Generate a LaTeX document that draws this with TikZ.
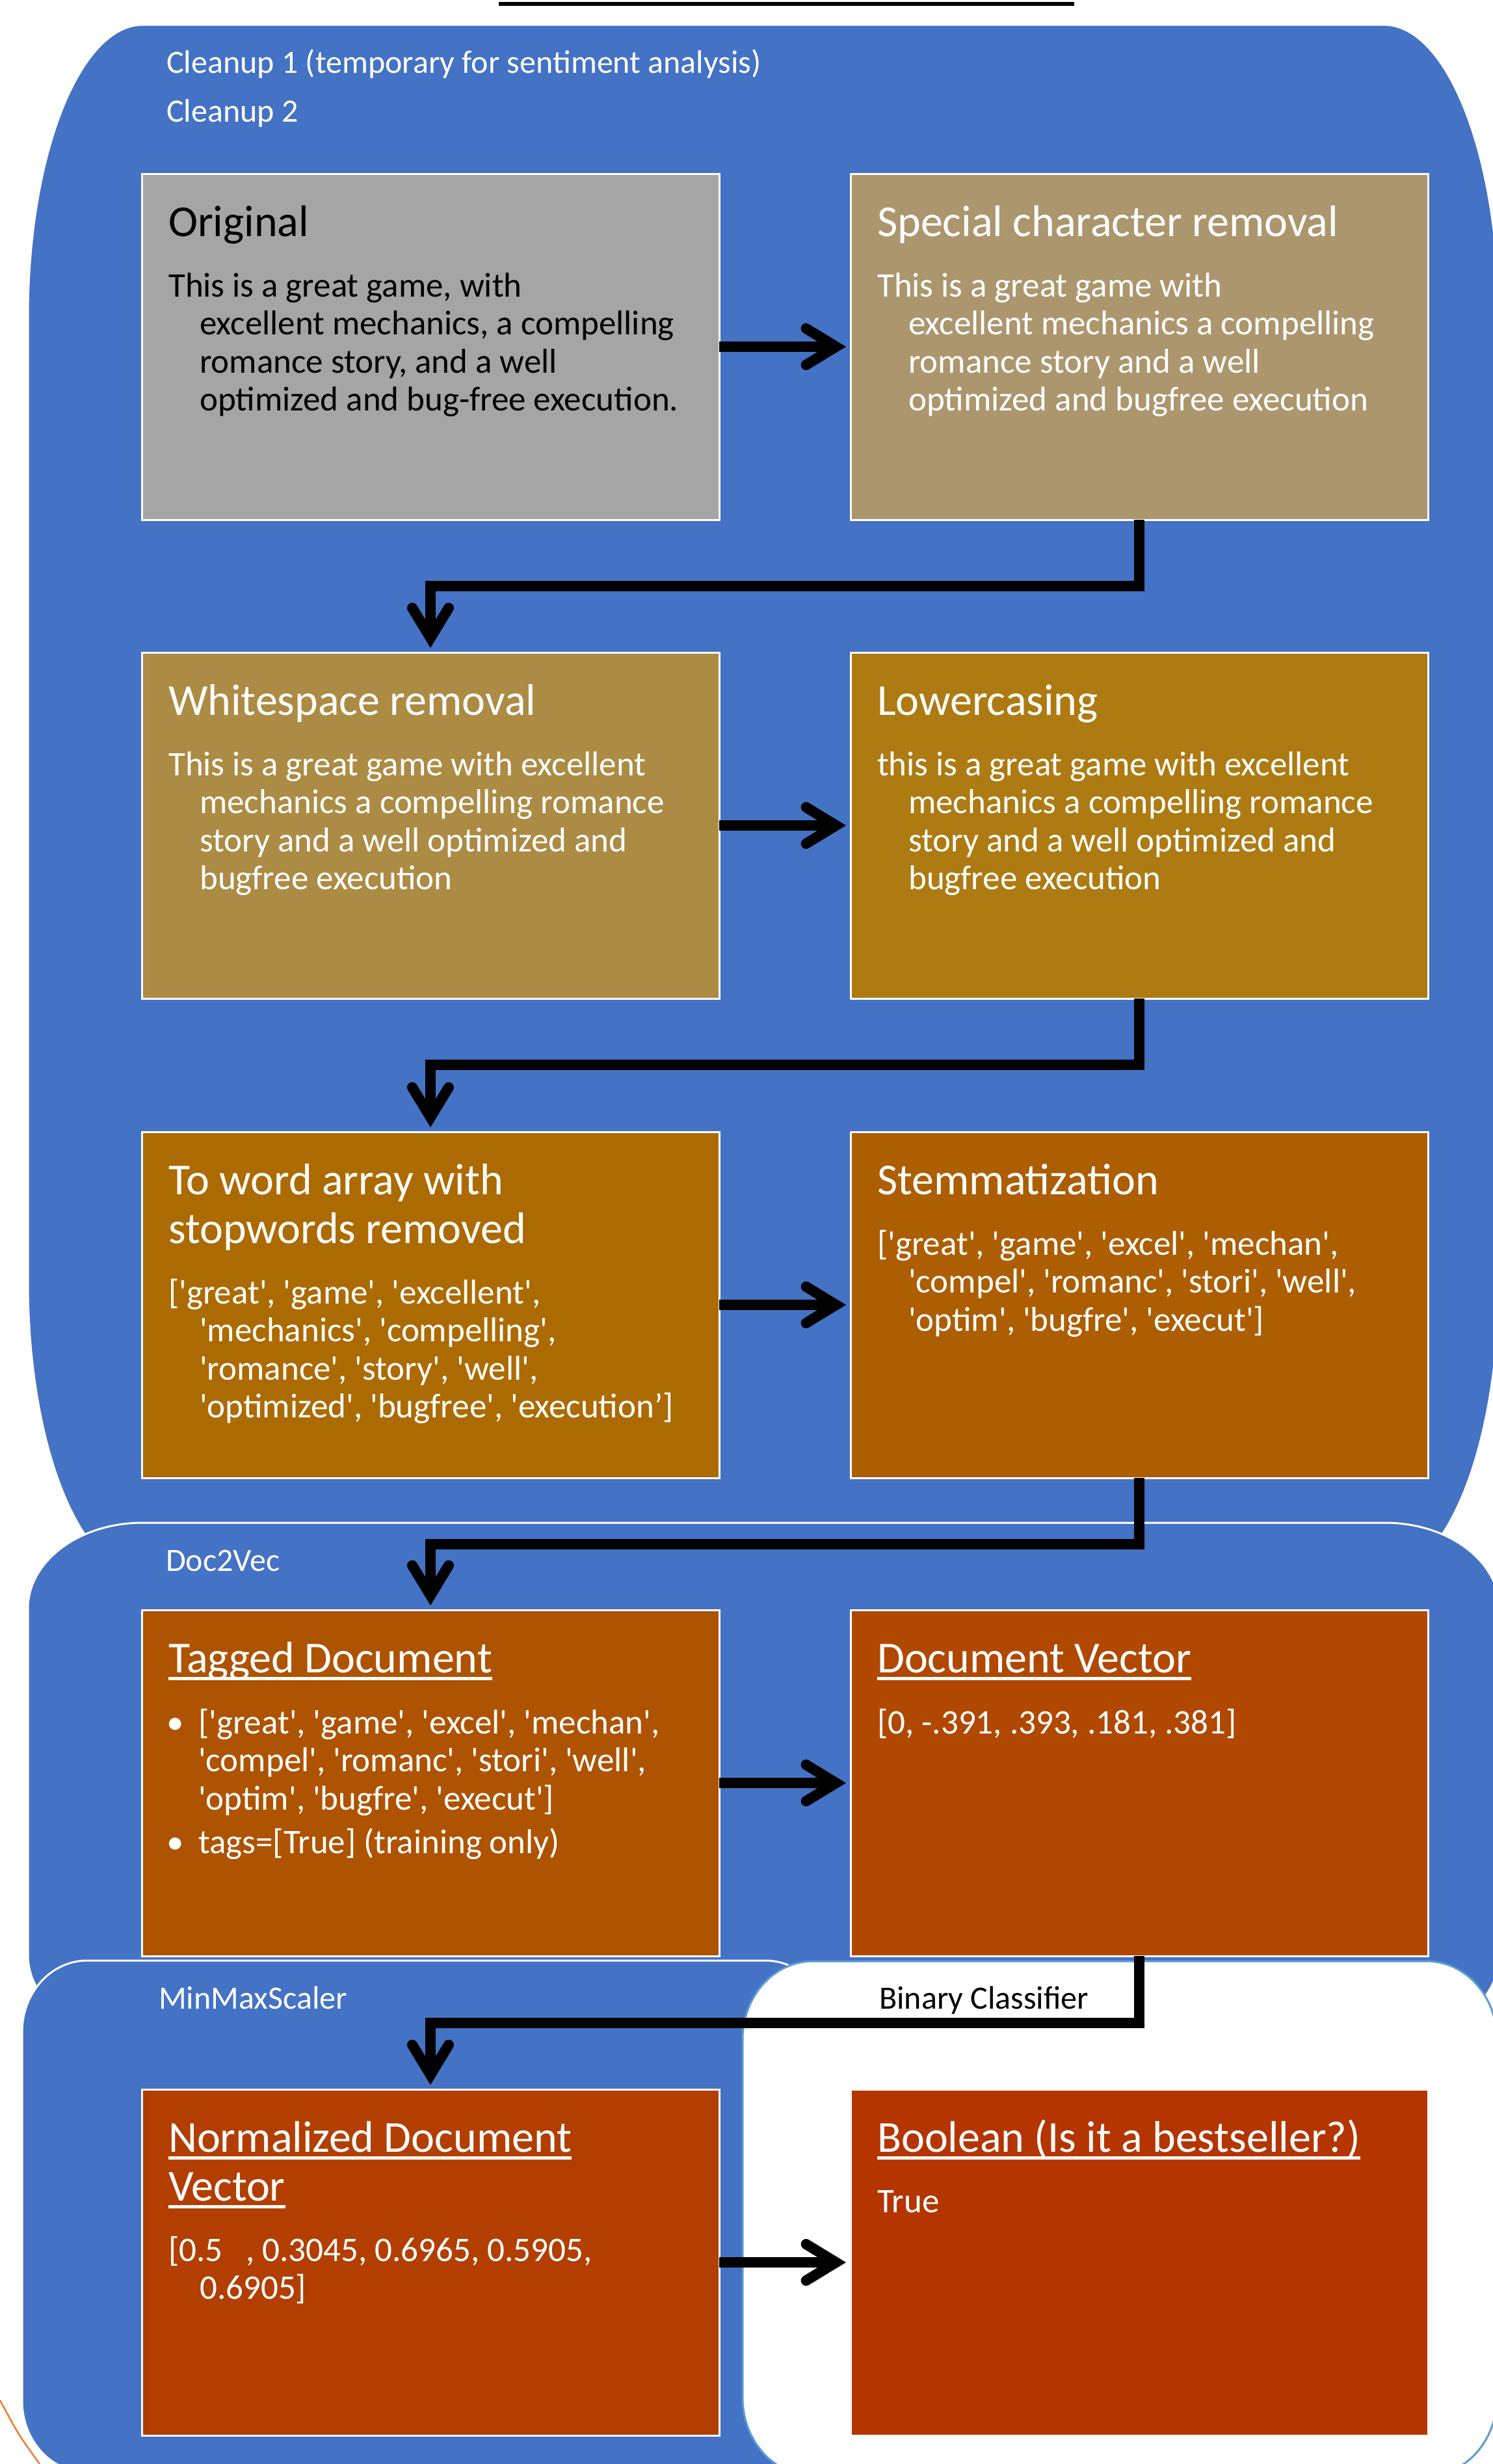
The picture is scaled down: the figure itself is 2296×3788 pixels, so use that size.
\documentclass[tikz,border=0pt]{standalone}
\usepackage{fontspec}
\setmainfont{Carlito}
\usetikzlibrary{arrows.meta}
\definecolor{grpblue}{HTML}{4472C4}
\definecolor{bcline}{HTML}{5B9BD5}
\definecolor{orangeline}{HTML}{ED7D31}
\definecolor{cA}{HTML}{A5A5A5}
\definecolor{cB}{HTML}{AC966E}
\definecolor{cC}{HTML}{AC8B45}
\definecolor{cD}{HTML}{AD7B12}
\definecolor{cE}{HTML}{AC6B00}
\definecolor{cF}{HTML}{AC5E00}
\definecolor{cG}{HTML}{AE5300}
\definecolor{cH}{HTML}{B14800}
\definecolor{cI}{HTML}{B23F00}
\definecolor{cJ}{HTML}{B43500}
\newcommand\sq{\textquotesingle}
\newcommand\ulx[1]{\leavevmode\setbox0=\hbox{#1}\rlap{\rule[-12pt]{\wd0}{5pt}}\box0}
\newcommand\titlefont{\fontsize{68}{75}\selectfont}
\newcommand\bodyfont{\fontsize{53}{58.5}\selectfont}
\newcommand\labelfont{\fontsize{50}{60}\selectfont}
\newcommand\hang[1]{\parbox[t]{1000pt}{\raggedright\let\\\newline\hangindent=48pt\hangafter=1 #1}}
\newcommand\grpshape[7]{%
  \path[#7] (#1+#5,#2) -- (#3-#5,#2)
    arc[start angle=-90,end angle=0,x radius=#5,y radius=#6]
    -- (#3,#4-#6)
    arc[start angle=0,end angle=90,x radius=#5,y radius=#6]
    -- (#1+#5,#4)
    arc[start angle=90,end angle=180,x radius=#5,y radius=#6]
    -- (#1,#2+#6)
    arc[start angle=180,end angle=270,x radius=#5,y radius=#6]
    -- cycle;}
\tikzset{
  stepbox/.style={draw=white, line width=3pt, minimum width=888pt, minimum height=532pt,
    inner sep=0pt, outer sep=0pt, anchor=north west},
  titletext/.style={font=\titlefont, text=white, inner sep=0pt, anchor=base west},
  bodytext/.style={font=\bodyfont, text=white, inner sep=0pt, anchor=base west},
  grplabel/.style={font=\labelfont, text=white, inner sep=0pt, anchor=base west},
  grpfill/.style={fill=grpblue, draw=white, line width=3pt},
  conn/.style={line width=16pt, line join=miter,
    -{Straight Barb[length=46pt, width=56pt, line cap=round, line join=miter]},
    shorten >=7pt}
}
\begin{document}
\begin{tikzpicture}[x=1pt, y=-1pt]
\useasboundingbox (0,0) rectangle (2296,3788);
\clip (0,0) rectangle (2296,3788);
\fill[white] (0,0) rectangle (2296,3788);

% top bar and orange arc
\draw[line width=6pt] (767,6) -- (1652,6);
\draw[orangeline, line width=2.5pt] (0,3690) .. controls (28,3742) .. (61,3788);

% group backgrounds
\grpshape{43}{38}{2305}{2421}{177}{450}{grpfill}
\grpshape{43}{2341}{2306}{3137}{176}{132}{grpfill}
\grpshape{34}{3014}{1277}{3801}{100}{110}{grpfill}
\grpshape{1142}{3015}{2302}{3806}{108}{120}{fill=white, draw=bcline, line width=3pt}

% group labels
\node[grplabel] (lblC1) at (256,112) {Cleanup 1 (temporary for sentiment analysis)};
\node[grplabel] (lblC2) at (256,187) {Cleanup 2};
\node[grplabel] (lblD2V) at (255,2415) {Doc2Vec};
\node[grplabel] (lblMMS) at (244,3088) {MinMaxScaler};
\node[grplabel, text=black] (lblBC) at (1352,3088) {Binary Classifier};

% boxes
\node[stepbox, fill=cA] (orig) at (218,267) {};
\node[stepbox, fill=cB] (spec) at (1308,267) {};
\node[stepbox, fill=cC] (ws) at (218,1003) {};
\node[stepbox, fill=cD] (lower) at (1308,1003) {};
\node[stepbox, fill=cE] (words) at (218,1740) {};
\node[stepbox, fill=cF] (stem) at (1308,1740) {};
\node[stepbox, fill=cG] (tagged) at (218,2475) {};
\node[stepbox, fill=cH] (docvec) at (1308,2475) {};
\node[stepbox, fill=cI] (norm) at (218,3212) {};
\node[stepbox, fill=cJ] (bool) at (1308,3212) {};

% texts: row 1
\node[titletext, text=black] (origT) at (259,363) {Original};
\node[bodytext, text=black] (origB) at (259,456) {\hang{This is a great game, with\\
excellent mechanics, a compelling\\
romance story, and a well\\
optimized and bug-free execution.}};
\node[titletext] (specT) at (1349,363) {Special character removal};
\node[bodytext] (specB) at (1349,456) {\hang{This is a great game with\\
excellent mechanics a compelling\\
romance story and a well\\
optimized and bugfree execution}};

% row 2
\node[titletext] (wsT) at (259,1099) {Whitespace removal};
\node[bodytext] (wsB) at (259,1192) {\hang{This is a great game with excellent\\
mechanics a compelling romance\\
story and a well optimized and\\
bugfree execution}};
\node[titletext] (lowerT) at (1349,1099) {Lowercasing};
\node[bodytext] (lowerB) at (1349,1192) {\hang{this is a great game with excellent\\
mechanics a compelling romance\\
story and a well optimized and\\
bugfree execution}};

% row 3
\node[titletext] (wordsT) at (259,1836) {\parbox[t]{860pt}{\raggedright To word array with\\
stopwords removed}};
\node[bodytext] (wordsB) at (259,2004) {\hang{[\sq great\sq, \sq game\sq, \sq excellent\sq,\\
\sq mechanics\sq, \sq compelling\sq,\\
\sq romance\sq, \sq story\sq, \sq well\sq,\\
\sq optimized\sq, \sq bugfree\sq, \sq execution’]}};
\node[titletext] (stemT) at (1349,1836) {Stemmatization};
\node[bodytext] (stemB) at (1349,1929) {\hang{[\sq great\sq, \sq game\sq, \sq excel\sq, \sq mechan\sq,\\
\sq compel\sq, \sq romanc\sq, \sq stori\sq, \sq well\sq,\\
\sq optim\sq, \sq bugfre\sq, \sq execut\sq]}};

% row 4
\node[titletext] (taggedT) at (259,2571) {\ulx{Tagged Document}};
\node[bodytext] (taggedB) at (305,2665) {\parbox[t]{860pt}{\raggedright
\leavevmode\llap{\textbullet\hskip 22pt}[\sq great\sq, \sq game\sq, \sq excel\sq, \sq mechan\sq,\\
\sq compel\sq, \sq romanc\sq, \sq stori\sq, \sq well\sq,\\
\sq optim\sq, \sq bugfre\sq, \sq execut\sq]\par\vspace{9pt}
\leavevmode\llap{\textbullet\hskip 22pt}tags=[True] (training only)}};
\node[titletext] (docvecT) at (1349,2571) {\ulx{Document Vector}};
\node[bodytext] (docvecB) at (1349,2665) {[0, -.391, .393, .181, .381]};

% row 5
\node[titletext] (normT) at (259,3308) {\parbox[t]{860pt}{\raggedright \ulx{Normalized Document}\\
\ulx{Vector}}};
\node[bodytext] (normB) at (259,3476) {\hang{[0.5\ \ \ , 0.3045, 0.6965, 0.5905,\\
0.6905]}};
\node[titletext] (boolT) at (1349,3308) {\ulx{Boolean (Is it a bestseller?)}};
\node[bodytext] (boolB) at (1349,3401) {True};

% connectors
\draw[conn] (orig.east) -- (spec.west);
\draw[conn] (spec.south) -- ++(0,102) -| (ws.north);
\draw[conn] (ws.east) -- (lower.west);
\draw[conn] (lower.south) -- ++(0,102) -| (words.north);
\draw[conn] (words.east) -- (stem.west);
\draw[conn] (stem.south) -- ++(0,102) -| (tagged.north);
\draw[conn] (tagged.east) -- (docvec.west);
\draw[conn] (docvec.south) -- ++(0,103) -| (norm.north);
\draw[conn] (norm.east) -- (bool.west);
\end{tikzpicture}
\end{document}
